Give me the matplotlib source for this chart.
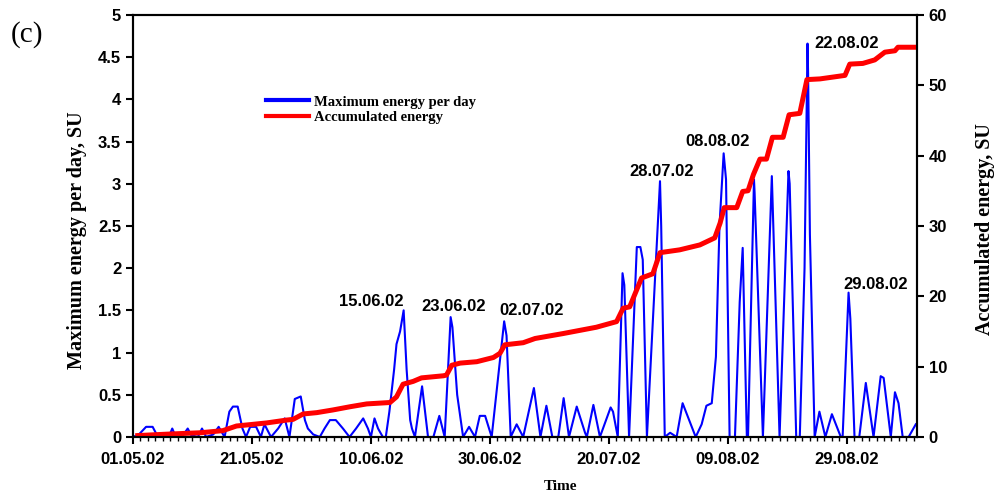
import matplotlib.pyplot as plt
from matplotlib.ticker import MultipleLocator, FormatStrFormatter

# days counted from 01.05.02
blue_days = [0, 1.0, 2.2, 3.3, 4.2, 6.0, 6.6, 7.2, 8.2, 9.2, 9.8, 10.9, 11.6, 12.3,
             13.5, 14.4, 15.4, 16.2, 16.8, 17.6, 18.4, 19.0, 19.7, 20.7, 21.5, 22.1,
             23.2, 24.4, 25.5, 26.3, 27.2, 28.2, 28.9, 29.4, 30.3, 31.4, 32.2, 33.1,
             34.1, 35.3, 36.4, 37.5, 38.7, 39.5, 40.0, 40.6, 41.2, 42.0, 42.5, 43.1,
             43.9, 44.3, 44.9, 45.5, 46.0, 46.6, 46.9, 47.4, 48.6, 49.6, 50.5, 51.5,
             52.4, 53.4, 53.7, 54.5, 55.5, 56.5, 57.5, 58.3, 59.2, 60.3, 62.4, 62.8,
             63.5, 64.5, 65.6, 67.4, 68.5, 69.5, 70.5, 71.5, 72.4, 73.3, 74.6, 76.0,
             76.3, 77.4, 78.5, 80.3, 80.7, 81.5, 82.3, 82.6, 83.4, 84.7, 85.3, 85.7,
             86.4, 88.6, 88.8, 89.4, 90.3, 91.4, 92.4, 94.6, 95.6, 96.4, 97.3, 98.0,
             98.6, 99.3, 99.7, 100.3, 101.2, 102.0, 102.5, 103.2, 103.4, 104.4, 104.5,
             105.9, 107.4, 108.7, 110.2, 110.4, 111.5, 112.1, 112.9, 113.4, 113.5,
             113.8, 114.6, 115.4, 116.4, 117.5, 119.0, 119.3, 120.3, 120.6, 121.3,
             122.1, 123.2, 124.5, 125.7, 126.2, 127.4, 128.1, 128.7, 129.4, 130.4, 131.6]
blue_vals = [0, 0.03, 0.12, 0.12, 0, 0, 0.1, 0, 0, 0.1, 0.02, 0, 0.1, 0,
             0.03, 0.12, 0, 0.3, 0.36, 0.36, 0.1, 0, 0.12, 0.12, 0, 0.15,
             0, 0.1, 0.22, 0, 0.45, 0.48, 0.2, 0.1, 0.03, 0, 0.1, 0.2,
             0.2, 0.1, 0, 0.1, 0.22, 0.1, 0, 0.22, 0.1, 0, 0, 0.3,
             0.8, 1.1, 1.25, 1.5, 0.8, 0.2, 0.1, 0, 0.6, 0, 0, 0.25,
             0, 1.42, 1.3, 0.5, 0, 0.12, 0, 0.25, 0.25, 0, 1.37, 1.2,
             0, 0.15, 0, 0.58, 0, 0.37, 0, 0, 0.46, 0, 0.36, 0.05,
             0, 0.38, 0, 0.35, 0.3, 0, 1.94, 1.8, 0, 2.25, 2.25, 2.1,
             0, 3.03, 2.5, 0, 0.05, 0, 0.4, 0, 0.15, 0.37, 0.4, 0.95,
             2.5, 3.36, 3.05, 0, 0, 1.6, 2.24, 0, 0, 3.05, 2.9,
             0, 3.09, 0, 3.15, 3.0, 0, 0, 2.0, 4.66, 4.3,
             2.4, 0, 0.3, 0, 0.27, 0, 0, 1.71, 1.4, 0,
             0, 0.64, 0, 0.72, 0.7, 0, 0.53, 0.4, 0, 0, 0.15]

red_days = [0.8, 5.7, 11.3, 15.1, 17.4, 20.2, 22.5, 25.8, 26.9, 28.6, 30.9, 33.6,
            36.5, 39.3, 43.2, 44.3, 45.4, 47.1, 48.5, 52.2, 52.7, 53.6, 55.0, 57.8,
            60.6, 61.7, 62.5, 65.6, 67.6, 72.3, 77.9, 81.3, 82.4, 83.5, 85.5, 87.4,
            88.6, 91.9, 95.3, 97.8, 98.7, 99.4, 101.5, 102.5, 103.4, 104.3, 105.4,
            106.5, 107.5, 109.3, 110.3, 112.1, 113.3, 115.5, 119.7, 120.5, 122.7,
            124.7, 126.4, 128.1, 128.6, 131.7]
red_vals = [0.2, 0.4, 0.6, 0.9, 1.56, 1.8, 2.0, 2.4, 2.5, 3.27, 3.46, 3.84,
            4.3, 4.7, 4.9, 5.7, 7.5, 7.9, 8.4, 8.7, 8.8, 10.2, 10.5, 10.7,
            11.3, 11.9, 13.1, 13.4, 14.0, 14.7, 15.6, 16.4, 18.3, 18.5, 22.6, 23.2,
            26.2, 26.6, 27.3, 28.3, 30.4, 32.6, 32.6, 34.9, 35.0, 37.3, 39.5,
            39.5, 42.6, 42.6, 45.8, 46.0, 50.8, 50.9, 51.4, 53.0, 53.1,
            53.6, 54.7, 54.9, 55.4, 55.4]

date_ticks = [0, 20, 40, 60, 80, 100, 120]
date_labels = ['01.05.02', '21.05.02', '10.06.02', '30.06.02', '20.07.02',
               '09.08.02', '29.08.02']

peak_labels = ['15.06.02', '23.06.02', '02.07.02', '28.07.02', '08.08.02',
               '22.08.02', '29.08.02']
peak_days = [40.1, 53.9, 67.0, 88.9, 98.3, 119.9, 124.8]
peak_vals = [1.60, 1.54, 1.50, 3.14, 3.50, 4.66, 1.81]

SANS = ['Liberation Sans', 'DejaVu Sans']
SERIF = ['Liberation Serif', 'DejaVu Serif']

fig = plt.figure(figsize=(9.94, 4.96), dpi=100)
ax = fig.add_axes([0.1338, 0.119, 0.7887, 0.851])
ax2 = ax.twinx()

lb, = ax.plot(blue_days, blue_vals, color='#0000ff', lw=1.5, label='Maximum energy per day')
lr, = ax2.plot(red_days, red_vals, color='#ff0000', lw=3.6, label='Accumulated energy')

ax.set_xlim(0, 131.8)
ax.set_ylim(0, 5)
ax2.set_ylim(0, 60)

ax.set_xticks(date_ticks)
ax.set_xticklabels(date_labels)
ax.xaxis.set_minor_locator(MultipleLocator(1.25))
ax.yaxis.set_major_locator(MultipleLocator(0.5))
ax.yaxis.set_major_formatter(FormatStrFormatter('%g'))
ax2.yaxis.set_major_locator(MultipleLocator(10))

for a in (ax, ax2):
    for s in a.spines.values():
        s.set_linewidth(1.5)
    a.tick_params(which='major', direction='out', length=5, width=1.5, labelsize=12)
    a.tick_params(which='minor', direction='out', length=3, width=1.0)
    for t in a.get_xticklabels() + a.get_yticklabels():
        t.set_family(SANS)
        t.set_fontweight('bold')
ax.tick_params(axis='x', pad=6)

ax.set_xlabel('Time', family=SERIF, fontweight='bold', fontsize=11)
ax.xaxis.set_label_coords(0.545, -0.118)
ax.xaxis.label.set_va('center')
ax.set_ylabel('Maximum energy per day, SU', family=SERIF, fontweight='bold', fontsize=14.5)
ax.yaxis.set_label_coords(-0.0714, 0.467)
ax2.set_ylabel('Accumulated energy, SU', family=SERIF, fontweight='bold', fontsize=14.5)
ax2.yaxis.set_label_coords(1.0867, 0.493)
for lab in (ax.yaxis.label, ax2.yaxis.label):
    lab.set_ha('center')
    lab.set_va('center')

for txt, d, v in zip(peak_labels, peak_days, peak_vals):
    ax.text(d, v, txt, family=SANS, fontweight='bold', fontsize=12,
            ha='center', va='center')

fig.legend(handles=[lb, lr], loc='upper left', bbox_to_anchor=(259 / 994, 1 - 88 / 496),
           frameon=False, handlelength=2.9, handletextpad=0.4, borderpad=0,
           labelspacing=0.15, prop={'family': SERIF, 'weight': 'bold', 'size': 10.5})
for h in fig.legends[0].get_lines():
    h.set_linewidth(3)

fig.text(27 / 994, 1 - 35 / 496, '(c)', family=SERIF, fontsize=21, ha='center', va='center')

fig.savefig('out.png', dpi=100)
